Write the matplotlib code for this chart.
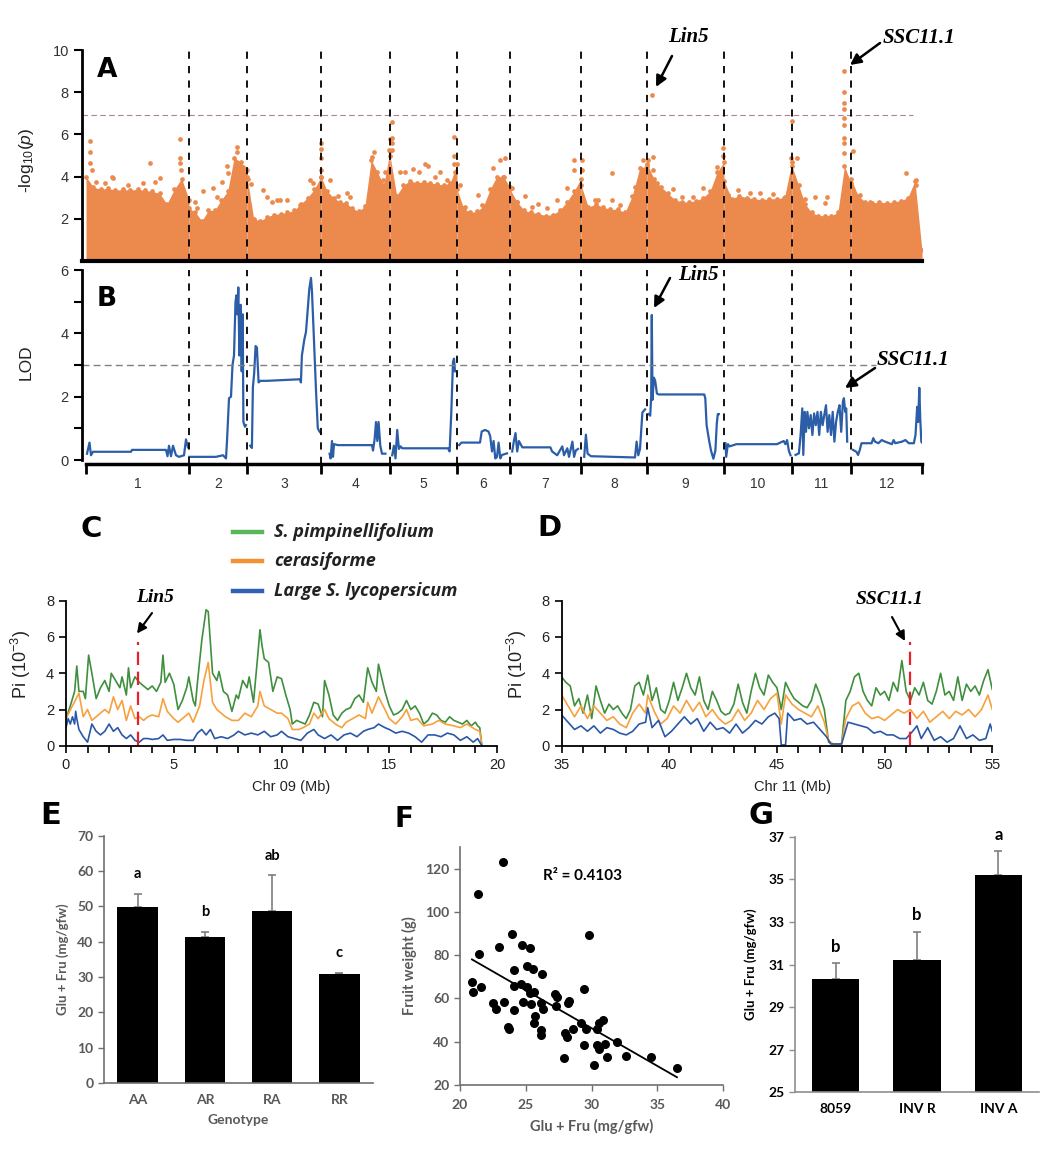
import numpy as np
import matplotlib.pyplot as plt
from matplotlib.lines import Line2D

plt.rcParams['font.family'] = ['Liberation Sans', 'DejaVu Sans']
plt.rcParams['mathtext.fontset'] = 'custom'
plt.rcParams['mathtext.rm'] = 'Liberation Sans'
plt.rcParams['mathtext.it'] = 'Liberation Sans:italic'

# ---------------- data ----------------
# chromosome lengths (Mb, as drawn)
chrom_len = [103, 58, 74, 69, 67, 53, 71, 66, 77, 68, 59, 71]

# GWAS: upper edge of the dense point cloud per chromosome (evenly spaced along chromosome)
gwas_top = [
    [4.0, 3.5, 3.4, 3.45, 3.35, 3.4, 3.35, 3.4, 3.35, 3.3, 3.2, 2.7, 3.4, 3.9, 2.9],
    [2.5, 2.3, 1.9, 2.4, 2.4, 2.9, 3.3, 4.9, 4.7, 4.3],
    [4.0, 2.0, 1.9, 2.1, 2.2, 2.25, 2.3, 2.4, 2.7, 3.0, 3.4, 4.0],
    [4.0, 3.3, 3.0, 2.8, 2.75, 2.5, 2.35, 2.6, 4.8, 4.2, 3.6, 5.2],
    [5.0, 3.1, 3.6, 3.8, 3.7, 3.75, 3.7, 3.65, 3.6, 3.7, 4.6],
    [3.4, 2.5, 2.3, 2.35, 2.6, 3.4, 4.0, 4.0, 3.5],
    [3.4, 2.8, 2.4, 2.3, 2.25, 2.15, 2.2, 2.4, 2.8, 3.3, 3.9],
    [3.6, 2.55, 2.7, 2.55, 2.45, 2.45, 2.3, 3.1, 4.4, 4.5],
    [4.6, 3.9, 3.5, 3.2, 2.9, 2.8, 2.8, 2.85, 3.0, 3.3, 4.2, 4.7],
    [3.8, 2.95, 3.1, 3.0, 2.95, 2.9, 2.95, 2.95, 3.0, 4.7],
    [4.5, 3.6, 2.7, 2.3, 2.15, 2.15, 2.15, 2.3, 4.5, 3.7],
    [3.9, 3.1, 2.8, 2.75, 2.8, 2.75, 2.8, 2.85, 3.0, 3.8, 0.5],
]
# GWAS: isolated SNPs above the cloud (chromosome, Mb, -log10 p)
gwas_hits = [
    (1, 4, 5.7), (1, 4, 5.18), (1, 4, 4.66), (1, 5.7, 4.3), (1, 10, 3.76), (1, 19, 3.68), (1, 25.7, 4.0),
    (1, 27, 3.95), (1, 42, 3.6), (1, 57, 3.7), (1, 64, 4.66), (1, 69, 3.76), (1, 74, 3.92), (1, 94, 5.8),
    (1, 94, 4.87), (1, 94, 4.66), (1, 95, 4.3),
    (2, 6, 2.8), (2, 7.7, 2.5), (2, 14, 3.3), (2, 24, 3.45), (2, 27.7, 3.05), (2, 32.7, 3.76), (2, 37.7, 4.5),
    (2, 39, 4.15), (2, 47.7, 5.42), (2, 47.7, 5.18), (2, 54, 4.47),
    (3, 1.3, 3.9), (3, 3.7, 3.65), (3, 16.3, 3.36), (3, 19.7, 3.05), (3, 24.7, 2.8), (3, 29.7, 2.9), (3, 33, 2.9),
    (3, 39.7, 2.9), (3, 53, 2.65), (3, 63, 3.84), (3, 66.3, 3.68), (3, 73.5, 5.6), (3, 73.5, 5.3), (3, 73.5, 4.87),
    (3, 73.5, 4.3),
    (4, 9, 3.84), (4, 17, 3.1), (4, 26, 3.2), (4, 29, 3.05), (4, 53, 5.18), (4, 51, 4.94), (4, 64, 4.23),
    (4, 62, 3.84), (4, 68, 5.26), (4, 68.5, 5.8),
    (5, 1.7, 6.57), (5, 1.7, 5.82), (5, 2.3, 5.58), (5, 2.3, 5.26), (5, 10, 4.23), (5, 15, 4.23), (5, 23.3, 4.34),
    (5, 29, 4.23), (5, 35, 4.6), (5, 37.7, 4.5), (5, 45, 4.0), (5, 50, 4.23), (5, 56.7, 3.84), (5, 64.3, 5.86),
    (5, 64.3, 5.0), (5, 64.3, 4.6), (5, 65, 4.23),
    (6, 3, 3.6), (6, 8, 2.58), (6, 21, 3.13), (6, 24.7, 2.65), (6, 36.3, 4.39), (6, 43, 4.8), (6, 48, 4.88),
    (6, 47, 4.0),
    (7, 1.7, 3.45), (7, 6.7, 2.8), (7, 15, 3.1), (7, 21.7, 2.58), (7, 28.3, 2.7), (7, 36.7, 2.5), (7, 46.7, 2.9),
    (7, 56.7, 3.45), (7, 64.3, 4.78), (7, 64.3, 4.31),
    (8, 0.7, 4.8), (8, 1.3, 4.3), (8, 14, 2.9), (8, 17.3, 2.9), (8, 30.7, 4.15), (8, 30.7, 2.9), (8, 39, 2.65),
    (8, 54, 3.5), (8, 62.3, 4.78),
    (9, 4.7, 7.87), (9, 6.3, 4.95), (9, 0.5, 4.8), (9, 5.7, 4.31), (9, 9.7, 3.68), (9, 16.3, 3.28), (9, 26.3, 3.4),
    (9, 34.7, 3.05), (9, 46.3, 3.05), (9, 56.3, 3.44), (9, 69.7, 4.47), (9, 76.3, 5.34), (9, 76.3, 5.0),
    (10, 4.3, 3.12), (10, 14.3, 3.36), (10, 26, 3.2), (10, 36, 3.2), (10, 49.3, 3.16), (10, 61, 3.05),
    (10, 67.7, 6.63), (10, 66.7, 4.87),
    (11, 4.7, 4.87), (11, 13, 2.96), (11, 23, 3.04), (11, 34.7, 3.04), (11, 33, 2.73), (11, 52.3, 9.02),
    (11, 52.3, 8.02), (11, 52.3, 7.5), (11, 52.3, 7.19), (11, 52.3, 6.76), (11, 52.3, 6.45), (11, 52.3, 5.82),
    (11, 52.3, 5.58), (11, 52.3, 5.1),
    (12, 2.3, 5.23), (12, 9, 3.12), (12, 19, 2.8), (12, 35.7, 2.57), (12, 45.7, 2.65), (12, 55, 4.18),
    (12, 65, 3.84), (12, 65, 3.6),
]
gwas_threshold = 6.9

# QTL LOD profile per chromosome (Mb within chromosome, LOD)
lod_pos = [
    [1, 3.5, 5, 7, 45, 46, 80, 81.5, 83, 85, 87, 90, 93, 98, 100, 102],
    [0.3, 27, 34, 37, 38, 40, 42, 43.5, 45, 46.5, 47.5, 48.5, 49.3, 50.4, 51.7, 52.7, 53.7, 54.4, 56, 57],
    [3.2, 4.9, 5.9, 7.2, 8.6, 9.9, 11.6, 13.3, 20, 53.2, 53.9, 54.9, 57.3, 59, 60.6, 62.3, 64, 65, 66.7, 69,
     70.8, 72.5, 73.8],
    [8.6, 9.6, 11, 12, 13, 17, 51, 52, 53.6, 55, 56.3, 57.6, 59.3, 61, 64.4],
    [2.2, 3.9, 5.5, 7.2, 8.9, 10.6, 12.3, 58, 59.6, 61.3, 63, 64, 65],
    [2.1, 4.5, 23, 24.7, 28, 31.5, 33.2, 35, 36.6, 38.3, 40, 41.6, 43.3, 45, 50],
    [2.2, 3.9, 5.5, 7.2, 8.9, 12.3, 40.4, 42.1, 47.2, 52.3, 54, 57.3, 59, 62.4, 64.1, 65.8, 68],
    [3.2, 4.9, 6.6, 10, 54, 55.6, 57.3, 59, 61.4, 62.7, 64.1],
    [1.5, 3.2, 4.2, 4.8, 5.5, 6.9, 8.2, 9.9, 11.6, 57.2, 58.3, 59.6, 62.3, 64, 66.4, 68.4, 69.8, 70.8, 71.8],
    [1.5, 2.2, 3.9, 5.6, 12.4, 53, 56.3, 59.7, 61.4, 63.1, 64.8, 66.5],
    [3.5, 6.9, 8.6, 10.3, 11.3, 12.7, 14, 15.4, 17, 18.7, 20.4, 22.1, 23.8, 25.5, 27.2, 28.9, 30.6, 32.3, 34,
     35.6, 37.3, 39, 40.7, 42.4, 44.1, 45.8, 47.5, 49.2, 50.9, 51.9, 53.2, 54.2, 55.2],
    [2, 5.4, 7.1, 8.8, 10.5, 20.6, 22.3, 24, 27.4, 30.7, 34.1, 40.9, 42.6, 44.3, 51, 54.4, 57.8, 62.9, 64.5,
     66.2, 67.2, 68.3, 69.3, 70.3, 71],
]
lod_val = [
    [0.2, 0.55, 0.15, 0.26, 0.26, 0.32, 0.32, 0.12, 0.45, 0.12, 0.45, 0.15, 0.1, 0.15, 0.65, 0.4],
    [0.1, 0.1, 0.15, 0.05, 0.6, 1.95, 2.0, 3.0, 3.3, 5.0, 5.2, 4.6, 5.45, 3.3, 4.9, 2.8, 4.6, 1.2, 1.05, 1.1],
    [0.45, 0.38, 2.3, 2.75, 3.6, 3.55, 2.45, 2.5, 2.5, 2.55, 2.45, 3.3, 3.8, 4.05, 4.7, 5.4, 5.75, 5.3, 4.0,
     2.2, 1.0, 0.9, 0.85],
    [0.2, 0.05, 0.6, 0.1, 0.5, 0.47, 0.47, 0.3, 0.65, 1.2, 0.6, 1.2, 0.45, 0.2, 0.2],
    [0.15, 0.45, 0.05, 0.95, 0.35, 0.43, 0.37, 0.37, 0.27, 1.5, 3.1, 3.2, 2.8],
    [0.47, 0.55, 0.55, 0.9, 0.95, 0.9, 0.75, 0.27, 0.6, 0.05, 0.1, 0.55, 0.05, 0.16, 0.21],
    [0.27, 0.6, 0.85, 0.27, 0.6, 0.4, 0.4, 0.27, 0.15, 0.43, 0.15, 0.37, 0.1, 0.58, 0.1, 0.3, 0.35],
    [0.1, 0.8, 0.2, 0.12, 0.08, 0.58, 0.15, 0.35, 1.5, 1.55, 1.6],
    [1.45, 1.4, 2.0, 4.58, 1.9, 2.6, 2.5, 2.1, 2.07, 2.07, 1.95, 1.1, 0.58, 0.3, 0.04, 0.3, 1.15, 1.45, 1.45],
    [0.53, 0.1, 0.5, 0.43, 0.5, 0.5, 0.55, 0.6, 0.5, 0.63, 0.3, 0.15],
    [0.16, 0.21, 0.79, 1.63, 0.16, 1.52, 0.89, 1.52, 1.0, 1.42, 0.79, 1.47, 1.1, 1.52, 0.79, 1.52, 1.1, 1.42,
     1.73, 0.89, 1.42, 0.79, 1.52, 0.58, 1.21, 1.52, 1.73, 0.89, 1.84, 1.95, 1.52, 1.63, 0.58],
    [0.32, 0.26, 0.16, 0.32, 0.53, 0.53, 0.69, 0.58, 0.53, 0.63, 0.58, 0.5, 0.63, 0.53, 0.58, 0.63, 0.53, 0.53,
     0.79, 1.68, 1.2, 2.28, 1.27, 0.58, 0.55],
]
lod_threshold = 3.0

# nucleotide diversity, chr 09 (Mb, Pi x 1e-3)
chr09_pim = [(0.0, 1.5), (0.2, 2.2), (0.4, 3.0), (0.5, 4.4), (0.6, 3.0), (0.8, 3.0), (0.9, 2.6), (1.0, 4.2),
             (1.05, 5.0), (1.2, 4.0), (1.4, 2.6), (1.6, 3.2), (1.8, 3.6), (2.0, 3.0), (2.1, 4.0), (2.3, 3.6),
             (2.5, 3.2), (2.6, 3.8), (2.8, 2.8), (2.9, 4.3), (3.0, 3.2), (3.2, 3.8), (3.4, 3.5), (3.6, 3.3),
             (3.8, 3.1), (4.0, 3.3), (4.2, 3.0), (4.4, 3.5), (4.5, 5.0), (4.6, 3.5), (4.8, 4.0), (5.0, 3.4),
             (5.2, 2.0), (5.4, 2.5), (5.6, 3.2), (5.7, 3.8), (5.9, 2.5), (6.0, 2.2), (6.1, 3.5), (6.3, 5.8),
             (6.5, 7.5), (6.6, 7.4), (6.8, 4.0), (7.0, 3.6), (7.1, 4.1), (7.3, 3.0), (7.5, 2.8), (7.7, 1.9),
             (7.9, 2.8), (8.0, 2.6), (8.2, 3.6), (8.4, 3.2), (8.5, 3.8), (8.7, 2.4), (8.9, 5.0), (9.0, 6.4),
             (9.1, 5.5), (9.2, 4.8), (9.4, 4.6), (9.6, 3.0), (9.8, 3.8), (10.0, 3.7), (10.2, 2.8), (10.4, 2.0),
             (10.5, 1.2), (10.7, 1.4), (10.9, 1.3), (11.1, 1.2), (11.3, 1.7), (11.5, 2.4), (11.7, 2.3),
             (11.9, 1.6), (12.0, 3.6), (12.2, 2.8), (12.4, 1.7), (12.6, 1.4), (12.8, 1.8), (13.0, 2.0),
             (13.2, 2.1), (13.4, 2.6), (13.6, 2.8), (13.8, 2.4), (14.0, 4.3), (14.2, 3.5), (14.4, 3.0),
             (14.5, 4.5), (14.6, 4.0), (14.8, 3.0), (15.0, 2.2), (15.2, 1.7), (15.4, 1.8), (15.6, 2.0),
             (15.8, 2.5), (16.0, 2.0), (16.2, 2.2), (16.4, 1.8), (16.6, 1.2), (16.8, 1.4), (17.0, 1.8),
             (17.2, 1.7), (17.4, 1.4), (17.6, 1.3), (17.8, 1.6), (18.0, 1.4), (18.2, 1.3), (18.4, 1.2),
             (18.6, 1.4), (18.8, 1.1), (19.0, 1.3), (19.1, 1.1), (19.2, 1.0), (19.3, 0.0)]
chr09_cer = [(0.0, 1.5), (0.3, 2.2), (0.6, 2.9), (0.8, 1.6), (1.0, 2.0), (1.2, 1.4), (1.5, 1.7), (1.8, 2.0),
             (2.0, 1.8), (2.2, 2.7), (2.4, 2.0), (2.6, 2.5), (2.8, 1.4), (3.0, 2.2), (3.2, 1.5), (3.4, 1.6),
             (3.6, 1.4), (3.8, 1.6), (4.0, 1.7), (4.3, 1.6), (4.5, 2.6), (4.7, 1.9), (5.0, 1.5), (5.2, 1.3),
             (5.4, 1.5), (5.7, 1.8), (5.9, 1.3), (6.2, 2.2), (6.4, 3.6), (6.6, 4.6), (6.8, 2.4), (7.0, 2.0),
             (7.2, 1.8), (7.4, 1.6), (7.7, 1.4), (8.0, 1.4), (8.3, 1.8), (8.6, 1.6), (8.9, 2.2), (9.0, 3.0),
             (9.2, 2.2), (9.5, 2.0), (9.8, 1.8), (10.0, 1.8), (10.3, 1.5), (10.5, 0.9), (10.8, 0.9), (11.0, 1.0),
             (11.3, 1.2), (11.5, 1.8), (11.7, 1.5), (12.0, 2.0), (12.2, 1.5), (12.5, 1.2), (12.8, 1.0),
             (13.0, 1.3), (13.3, 1.5), (13.6, 1.7), (13.9, 1.5), (14.0, 2.4), (14.2, 1.8), (14.5, 2.7),
             (14.8, 2.0), (15.0, 1.5), (15.3, 1.2), (15.6, 1.6), (15.8, 2.0), (16.0, 1.4), (16.3, 1.5),
             (16.6, 1.1), (17.0, 1.2), (17.3, 1.4), (17.6, 1.2), (18.0, 1.1), (18.3, 1.0), (18.6, 1.2),
             (19.0, 0.9), (19.2, 0.8), (19.3, 0.0)]
chr09_lyc = [(0.0, 1.0), (0.1, 1.5), (0.2, 1.2), (0.3, 1.6), (0.4, 1.2), (0.45, 1.9), (0.5, 1.5), (0.6, 0.9),
             (0.8, 0.5), (1.0, 0.2), (1.2, 1.2), (1.4, 0.8), (1.6, 0.6), (1.8, 0.8), (2.0, 1.2), (2.2, 0.8),
             (2.4, 1.0), (2.6, 0.6), (2.8, 0.4), (3.0, 0.6), (3.2, 0.3), (3.4, 0.2), (3.6, 0.4), (3.8, 0.4),
             (4.0, 0.35), (4.3, 0.4), (4.5, 0.6), (4.7, 0.3), (5.0, 0.35), (5.3, 0.35), (5.6, 0.3), (5.9, 0.3),
             (6.1, 0.7), (6.3, 0.9), (6.5, 0.6), (6.7, 0.9), (6.9, 0.4), (7.2, 0.5), (7.5, 0.4), (7.8, 0.6),
             (8.0, 0.8), (8.3, 0.6), (8.6, 0.7), (8.9, 0.6), (9.2, 0.8), (9.5, 0.5), (9.8, 0.6), (10.0, 0.8),
             (10.3, 0.5), (10.6, 0.4), (10.9, 0.3), (11.2, 0.7), (11.5, 0.9), (11.7, 0.6), (12.0, 0.4),
             (12.3, 0.6), (12.6, 0.3), (12.9, 0.6), (13.2, 0.7), (13.5, 0.5), (13.8, 0.8), (14.0, 0.9),
             (14.3, 1.0), (14.5, 1.2), (14.8, 1.0), (15.0, 0.9), (15.3, 0.7), (15.6, 0.8), (15.9, 0.7),
             (16.2, 0.5), (16.5, 0.2), (16.8, 0.6), (17.1, 0.6), (17.4, 0.5), (17.7, 0.7), (18.0, 0.6),
             (18.3, 0.3), (18.6, 0.5), (18.9, 0.2), (19.1, 0.4), (19.3, 0.0)]

# nucleotide diversity, chr 11 (Mb, Pi x 1e-3)
chr11_pim = [(35.0, 3.8), (35.2, 3.5), (35.4, 3.3), (35.6, 2.2), (35.8, 2.6), (36.0, 1.8), (36.2, 2.8),
             (36.4, 1.5), (36.6, 3.3), (36.8, 2.5), (37.0, 1.8), (37.2, 2.3), (37.4, 2.0), (37.6, 2.2),
             (37.8, 1.8), (38.0, 1.5), (38.2, 2.0), (38.4, 3.3), (38.6, 3.5), (38.8, 2.8), (39.0, 3.9),
             (39.2, 2.5), (39.4, 3.2), (39.6, 2.0), (39.8, 1.8), (40.0, 2.5), (40.2, 3.5), (40.4, 2.5),
             (40.6, 3.2), (40.8, 4.0), (41.0, 3.2), (41.2, 2.8), (41.4, 3.8), (41.6, 2.5), (41.8, 2.0),
             (42.0, 3.0), (42.2, 2.5), (42.4, 1.9), (42.6, 1.7), (42.8, 1.8), (43.0, 2.3), (43.2, 3.4),
             (43.4, 2.4), (43.6, 1.8), (43.8, 3.0), (44.0, 4.0), (44.2, 3.2), (44.4, 2.8), (44.6, 3.9),
             (44.8, 3.5), (45.0, 3.2), (45.2, 2.0), (45.4, 3.5), (45.6, 3.0), (45.8, 2.6), (46.0, 2.4),
             (46.2, 2.2), (46.4, 2.1), (46.6, 2.5), (46.8, 3.4), (47.0, 2.8), (47.2, 2.0), (47.4, 0.2),
             (47.6, 0.1), (47.8, 0.1), (48.0, 0.1), (48.2, 2.5), (48.4, 3.0), (48.6, 3.8), (48.8, 4.0),
             (49.0, 3.0), (49.2, 2.5), (49.4, 2.2), (49.6, 3.2), (49.8, 2.8), (50.0, 3.0), (50.2, 2.5),
             (50.4, 3.5), (50.6, 3.0), (50.8, 4.7), (51.0, 3.0), (51.2, 2.5), (51.4, 3.2), (51.6, 2.8),
             (51.8, 3.5), (52.0, 2.5), (52.2, 2.3), (52.4, 3.0), (52.6, 4.0), (52.8, 2.8), (53.0, 3.0),
             (53.2, 2.5), (53.4, 3.8), (53.6, 2.5), (53.8, 3.4), (54.0, 3.0), (54.2, 3.3), (54.4, 2.8),
             (54.6, 3.6), (54.8, 4.2), (55.0, 3.1)]
chr11_cer = [(35.0, 2.8), (35.3, 2.2), (35.6, 1.6), (35.9, 2.2), (36.2, 1.5), (36.5, 2.2), (36.8, 1.8),
             (37.1, 1.4), (37.4, 1.6), (37.7, 1.2), (38.0, 1.0), (38.3, 1.8), (38.6, 2.3), (38.9, 1.8),
             (39.0, 2.8), (39.3, 1.9), (39.6, 1.2), (39.9, 1.5), (40.2, 2.2), (40.5, 1.8), (40.8, 2.5),
             (41.1, 1.9), (41.4, 2.4), (41.7, 1.6), (42.0, 2.0), (42.3, 1.5), (42.6, 1.2), (42.9, 1.4),
             (43.2, 2.0), (43.5, 1.4), (43.8, 1.8), (44.1, 2.5), (44.4, 2.0), (44.7, 2.6), (45.0, 2.9),
             (45.2, 1.2), (45.4, 2.8), (45.7, 2.3), (46.0, 2.0), (46.3, 1.8), (46.6, 1.6), (46.9, 2.2),
             (47.2, 1.3), (47.4, 0.3), (47.6, 0.1), (48.0, 0.1), (48.2, 1.5), (48.5, 2.2), (48.8, 2.4),
             (49.1, 1.8), (49.4, 1.5), (49.7, 1.6), (50.0, 1.4), (50.3, 1.7), (50.6, 2.0), (50.9, 1.8),
             (51.2, 2.0), (51.5, 1.5), (51.8, 1.9), (52.1, 1.3), (52.4, 1.6), (52.7, 1.9), (53.0, 1.5),
             (53.3, 1.9), (53.6, 1.7), (53.9, 2.0), (54.2, 1.6), (54.5, 2.0), (54.8, 2.8), (55.0, 2.0)]
chr11_lyc = [(35.0, 1.7), (35.3, 1.3), (35.6, 0.9), (35.9, 1.1), (36.2, 0.8), (36.5, 1.1), (36.8, 0.7),
             (37.1, 1.0), (37.4, 0.9), (37.7, 0.7), (38.0, 0.6), (38.3, 0.8), (38.6, 1.2), (38.9, 1.3),
             (39.0, 2.1), (39.2, 1.0), (39.5, 1.4), (39.8, 0.5), (40.1, 0.8), (40.4, 1.2), (40.7, 1.6),
             (41.0, 1.2), (41.3, 1.5), (41.6, 0.8), (41.9, 1.3), (42.2, 0.9), (42.5, 1.0), (42.8, 0.7),
             (43.1, 1.2), (43.4, 0.7), (43.7, 1.0), (44.0, 1.4), (44.3, 1.2), (44.6, 1.6), (44.9, 1.8),
             (45.1, 1.5), (45.2, 0.05), (45.4, 0.05), (45.5, 1.8), (45.8, 1.4), (46.1, 1.5), (46.4, 1.2),
             (46.7, 1.3), (47.0, 0.9), (47.3, 0.5), (47.5, 0.1), (48.0, 0.1), (48.1, 0.5), (48.3, 1.3),
             (48.6, 1.2), (48.9, 1.1), (49.2, 1.0), (49.5, 0.7), (49.8, 0.8), (50.1, 0.6), (50.4, 0.6),
             (50.7, 0.4), (51.0, 0.4), (51.3, 0.8), (51.5, 1.1), (51.7, 0.4), (52.0, 1.0), (52.3, 0.3),
             (52.6, 0.5), (52.9, 0.2), (53.2, 0.4), (53.5, 1.1), (53.8, 0.4), (54.1, 0.6), (54.4, 0.3),
             (54.7, 0.4), (54.9, 1.2), (55.0, 0.8)]
lin5_mb = 3.33
ssc111_mb = 51.2

# E: Lin5 genotypes
genotypes = ['AA', 'AR', 'RA', 'RR']
e_mean = [49.7, 41.2, 48.6, 30.8]
e_err = [3.8, 1.6, 10.2, 0.4]
e_letters = ['a', 'b', 'ab', 'c']

# F: sugar vs fruit weight
sugar = [23.24, 21.34, 21.47, 20.91, 20.96, 21.57, 22.99, 23.92, 24.71, 25.34, 24.11, 25.06, 25.52, 26.23,
         24.13, 24.63, 25.08, 25.32, 25.65, 22.53, 22.73, 23.32, 24.13, 24.76, 25.37, 26.18, 26.28, 25.72,
         25.62, 23.65, 23.75, 26.13, 26.13, 27.24, 27.34, 27.29, 28.30, 28.20, 27.97, 28.10, 28.56, 27.92,
         29.44, 29.77, 29.21, 29.57, 29.44, 30.18, 30.38, 30.53, 30.43, 30.58, 30.89, 31.01, 31.14, 31.90,
         32.61, 34.48, 36.48]
fruit_wt = [123.1, 108.2, 80.5, 67.4, 62.8, 65.1, 83.8, 89.7, 84.6, 83.5, 73.1, 74.9, 73.5, 71.4,
            65.8, 66.5, 65.4, 62.6, 62.8, 57.7, 55.1, 58.3, 54.5, 58.5, 57.4, 57.7, 54.9, 52.0,
            48.5, 46.9, 46.0, 45.4, 43.1, 62.0, 60.5, 56.5, 58.8, 57.7, 44.2, 42.0, 45.7, 32.6,
            64.5, 89.4, 48.5, 46.0, 38.3, 29.4, 38.3, 36.5, 46.0, 48.5, 50.0, 38.9, 33.1, 39.7,
            33.5, 32.8, 27.7]

# G: invertase lines
lines = ['8059', 'INV R', 'INV A']
g_mean = [30.34, 31.2, 35.22]
g_err = [0.73, 1.34, 1.09]
g_letters = ['b', 'b', 'a']

# ---------------- figure ----------------
W, H = 1052, 1164
fig = plt.figure(figsize=(W / 100, H / 100), dpi=100)


def px_axes(x0, y0, x1, y1):
    return fig.add_axes([x0 / W, 1 - y1 / H, (x1 - x0) / W, (y1 - y0) / H])


def fpos(x, y):
    return (x / W, 1 - y / H)


ORANGE = '#EC894C'
BLUE = '#2B5EA7'
label_font = ['Liberation Sans Narrow', 'DejaVu Sans']
serif_bi = dict(family='Liberation Serif', weight='bold', style='italic')

starts = np.concatenate([[0], np.cumsum(chrom_len)[:-1]])
total = float(np.sum(chrom_len))
centers = starts + np.array(chrom_len) / 2.0

# ---- A: GWAS ----
axA = px_axes(82, 50, 922, 261)
for i in range(12):
    xs = starts[i] + np.linspace(0, chrom_len[i], len(gwas_top[i]))
    axA.fill_between(xs, 0, gwas_top[i], color=ORANGE, lw=0)
    axA.plot(xs, gwas_top[i], 'o', ms=3.4, color=ORANGE, mec='none')
hc = np.array([h[0] for h in gwas_hits]) - 1
hx = starts[hc] + np.array([h[1] for h in gwas_hits])
hy = [h[2] for h in gwas_hits]
axA.plot(hx, hy, 'o', ms=3.4, color=ORANGE, mec='none', zorder=4)
axA.plot([-4, 827], [gwas_threshold] * 2, color='#B0809A', lw=0.8, ls=(0, (5, 3)))
for b in starts[1:]:
    axA.axvline(b, color='k', lw=1.3, ls=(0, (4, 4)), zorder=5)
axA.set_xlim(-4, total)
axA.set_ylim(0, 10)
axA.set_xticks([])
axA.set_yticks([2, 4, 6, 8, 10])
axA.tick_params(axis='y', length=6, width=1.5, labelsize=10.5, labelcolor='#333333')
for s in ['top', 'right']:
    axA.spines[s].set_visible(False)
axA.spines['left'].set_linewidth(2)
axA.spines['bottom'].set_linewidth(3)
axA.spines['bottom'].set_zorder(6)
fig.text(*fpos(26, 160), r'-log$_{10}$($\it{p}$)', rotation=90, ha='center', va='center', fontsize=12.5,
         color='#222222')

# ---- B: QTL LOD ----
axB = px_axes(82, 270, 922, 464)
for i in range(12):
    axB.plot(starts[i] + np.array(lod_pos[i]), lod_val[i], color=BLUE, lw=1.6)
axB.plot([-4, 790], [lod_threshold] * 2, color='#808080', lw=1, ls=(0, (5, 3)))
for b in starts[1:]:
    axB.axvline(b, color='k', lw=1.3, ls=(0, (4, 4)), zorder=5)
axB.set_xlim(-4, total)
axB.set_ylim(-0.126, 6)
for s in ['top', 'right']:
    axB.spines[s].set_visible(False)
axB.spines['left'].set_bounds(0, 6)
axB.spines['left'].set_linewidth(2)
axB.spines['bottom'].set_bounds(0, total)
axB.spines['bottom'].set_linewidth(2.5)
axB.set_yticks([0, 2, 4, 6])
axB.set_yticks([1, 3, 5], minor=True)
axB.tick_params(axis='y', which='both', length=6, width=1.5, labelsize=10.5, labelcolor='#333333')
axB.set_xticks(list(starts) + [total])
axB.set_xticklabels([])
axB.set_xticks(centers, minor=True)
axB.set_xticklabels([str(i + 1) for i in range(12)], minor=True)
axB.tick_params(axis='x', which='major', length=7, width=2)
axB.tick_params(axis='x', which='minor', length=0, pad=9, labelsize=10, labelcolor='#333333')
fig.text(*fpos(26, 362), 'LOD', rotation=90, ha='center', va='center', fontsize=12.5, color='#222222')

fig.text(*fpos(107, 70), 'A', family=label_font, weight='bold', fontsize=19, ha='center', va='center')
fig.text(*fpos(107, 299), 'B', family=label_font, weight='bold', fontsize=19, ha='center', va='center')

arrow = dict(arrowstyle='-|>', color='k', lw=1.8, mutation_scale=16, shrinkA=0, shrinkB=0)
for head, tail, txt, tpos in [((656, 87), (672, 56), 'Lin5', (688, 37)),
                              ((850, 65), (880, 43), 'SSC11.1', (919, 38)),
                              ((654, 308), (670, 278), 'Lin5', (698, 275)),
                              ((845, 388), (875, 368), 'SSC11.1', (913, 360))]:
    fig.add_artist(plt.Annotation('', xy=fpos(*head), xycoords='figure fraction', xytext=fpos(*tail),
                                  textcoords='figure fraction', arrowprops=arrow))
    fig.text(*fpos(*tpos), txt, ha='center', va='center', fontsize=15, **serif_bi)


# ---- C / D: nucleotide diversity ----
def pi_axes(ax, series, xlim):
    cols = ['#3F8F3F', '#F6A13E', '#2A58A8']
    for data, c in zip(series, cols):
        arr = np.array(data)
        ax.plot(arr[:, 0], arr[:, 1], color=c, lw=1.2)
    ax.set_xlim(*xlim)
    ax.set_ylim(0, 8)
    ax.set_xticks(np.arange(xlim[0], xlim[1] + 0.1, 5))
    ax.set_xticks(np.arange(xlim[0], xlim[1] + 0.1, 1), minor=True)
    ax.set_yticks([0, 2, 4, 6, 8])
    ax.tick_params(which='both', length=5, width=1.2, labelsize=10.5, labelcolor='#222222')
    for s in ['top', 'right']:
        ax.spines[s].set_visible(False)
    for s in ['left', 'bottom']:
        ax.spines[s].set_linewidth(1.3)
    ax.spines['bottom'].set_bounds(*xlim)


axC = px_axes(66, 600.7, 497, 745.8)
pi_axes(axC, [chr09_pim, chr09_cer, chr09_lyc], (0, 20))
axC.plot([lin5_mb] * 2, [0.05, 5.75], color='#E8202A', lw=1.6, ls=(0, (6, 3)), zorder=5)
axD = px_axes(561.6, 600.7, 992.3, 745.8)
pi_axes(axD, [chr11_pim, chr11_cer, chr11_lyc], (35, 55))
axD.plot([ssc111_mb] * 2, [0.05, 5.73], color='#E8202A', lw=1.6, ls=(0, (6, 3)), zorder=5)

fig.text(*fpos(291, 787), 'Chr 09 (Mb)', ha='center', va='center', fontsize=10.5, color='#222222')
fig.text(*fpos(793, 787), 'Chr 11 (Mb)', ha='center', va='center', fontsize=10.5, color='#222222')
fig.text(*fpos(21, 665), r'Pi (10$^{-3}$)', rotation=90, ha='center', va='center', fontsize=13,
         color='#222222')
fig.text(*fpos(517, 665), r'Pi (10$^{-3}$)', rotation=90, ha='center', va='center', fontsize=13,
         color='#222222')

for head, tail, txt, tpos in [((137, 633.5), (152, 613), 'Lin5', (155, 598)),
                              ((905, 641), (892, 617), 'SSC11.1', (890, 600))]:
    fig.add_artist(plt.Annotation('', xy=fpos(*head), xycoords='figure fraction', xytext=fpos(*tail),
                                  textcoords='figure fraction',
                                  arrowprops=dict(arrowstyle='-|>', color='k', lw=1.5, mutation_scale=14,
                                                  shrinkA=0, shrinkB=0)))
    fig.text(*fpos(*tpos), txt, ha='center', va='center', fontsize=14, **serif_bi)

legend_rows = [('S. pimpinellifolium', '#5BB55B', 532), ('cerasiforme', '#F39034', 561),
               ('Large S. lycopersicum', '#2F62B5', 591)]
for name, col, yy in legend_rows:
    fig.add_artist(Line2D([233 / W, 262 / W], [1 - yy / H] * 2, color=col, lw=3.2))
    fig.text(274 / W, 1 - yy / H, name, va='center', ha='left', fontsize=13, family='Open Sans',
             weight='bold', style='italic', color='#222222')

fig.text(*fpos(91, 529), 'C', family=label_font, weight='bold', fontsize=21, ha='center', va='center')
fig.text(*fpos(549, 528), 'D', family=label_font, weight='bold', fontsize=21, ha='center', va='center')


# ---- E / F / G: Excel-like panels ----
def excel_style(ax, spine_col):
    for s in ['top', 'right']:
        ax.spines[s].set_visible(False)
    for s in ['left', 'bottom']:
        ax.spines[s].set_color(spine_col)
        ax.spines[s].set_linewidth(1.2)
    ax.tick_params(colors=spine_col, width=1.0, length=4)


GRAY = '#595959'
axE = px_axes(104, 835.7, 373, 1083)
xe = np.arange(len(genotypes))
axE.bar(xe, e_mean, width=0.6, color='black', zorder=2)
axE.errorbar(xe, e_mean, yerr=[np.zeros(len(xe)), e_err], fmt='none', ecolor='#7f7f7f', elinewidth=1.2,
             capsize=3, capthick=1.2, zorder=1)
for xi, m, e, t in zip(xe, e_mean, e_err, e_letters):
    axE.annotate(t, (xi, m + e), xytext=(0, 9), textcoords='offset points', ha='center', va='bottom',
                 fontsize=10.5, family='Lato', weight='bold')
axE.set_xlim(-0.5, 3.5)
axE.set_ylim(0, 70)
axE.set_yticks(range(0, 71, 10))
axE.set_xticks(xe)
axE.set_xticklabels(genotypes)
excel_style(axE, '#6f6f6f')
axE.tick_params(axis='x', length=0, pad=8)
axE.set_xlabel('Genotype', family='Lato', weight='bold', fontsize=10, color=GRAY, labelpad=6)
axE.set_ylabel('Glu + Fru (mg/gfw)', family='Lato', weight='bold', fontsize=9.5, color=GRAY, labelpad=6)

axF = px_axes(460, 847, 723.3, 1085)
axF.scatter(sugar, fruit_wt, s=30, color='black', zorder=3)
fit = np.polyfit(sugar, fruit_wt, 1)
xf = np.array([min(sugar), max(sugar)])
axF.plot(xf, np.polyval(fit, xf), color='black', lw=1.3)
axF.text(29.3, 116.5, 'R² = 0.4103', ha='center', va='center', fontsize=11, family='Lato', weight='bold')
axF.set_xlim(20, 40)
axF.set_ylim(20, 130)
axF.set_xticks(range(20, 41, 5))
axF.set_yticks(range(20, 121, 20))
excel_style(axF, '#6f6f6f')
axF.tick_params(axis='x', pad=6)
axF.set_xlabel('Glu + Fru (mg/gfw)', family='Lato', weight='bold', fontsize=10.5, color=GRAY, labelpad=6)
axF.set_ylabel('Fruit weight (g)', family='Lato', weight='bold', fontsize=10.5, color=GRAY, labelpad=6)

axG = px_axes(795, 836.7, 1039, 1092.3)
xg = np.arange(len(lines))
axG.bar(xg, g_mean, width=0.58, color='black', zorder=2)
axG.errorbar(xg, g_mean, yerr=[np.zeros(len(xg)), g_err], fmt='none', ecolor='#7f7f7f', elinewidth=1.2,
             capsize=3, capthick=1.2, zorder=1)
for xi, m, e, t in zip(xg, g_mean, g_err, g_letters):
    axG.annotate(t, (xi, m + e), xytext=(0, 6), textcoords='offset points', ha='center', va='bottom',
                 fontsize=12, family='Lato', weight='bold')
axG.set_xlim(-0.5, 2.5)
axG.set_ylim(25, 37)
axG.set_yticks(range(25, 38, 2))
axG.set_xticks(xg)
axG.set_xticklabels(lines)
excel_style(axG, '#8f8f8f')
axG.tick_params(axis='x', length=0, pad=8)
axG.set_ylabel('Glu + Fru (mg/gfw)', family='Lato', weight='bold', fontsize=9.5, color='black', labelpad=8)

fig.text(*fpos(51, 816), 'E', family=label_font, weight='bold', fontsize=22, ha='center', va='center')
fig.text(*fpos(404, 819), 'F', family=label_font, weight='bold', fontsize=20, ha='center', va='center')
fig.text(*fpos(761, 816), 'G', family=label_font, weight='bold', fontsize=22, ha='center', va='center')

# bold Lato tick labels for the Excel-style panels (after ticks exist)
fig.canvas.draw()
for ax, col in [(axE, GRAY), (axF, GRAY), (axG, 'black')]:
    for lab in ax.get_xticklabels() + ax.get_yticklabels():
        lab.set_fontfamily('Lato')
        lab.set_fontweight('bold')
        lab.set_fontsize(10)
        lab.set_color(col)

fig.savefig('out.png', dpi=100)
